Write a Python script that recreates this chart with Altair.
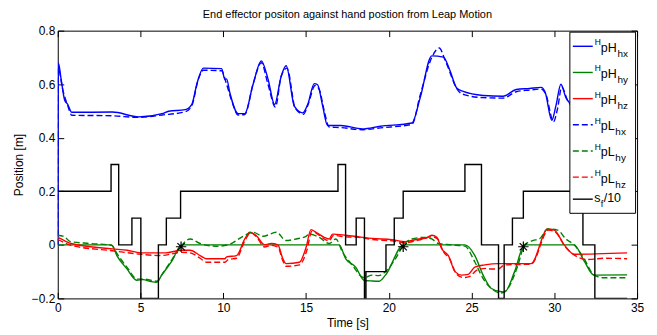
import altair as alt
import pandas as pd

FONT = "Liberation Sans"
title_text = "End effector positon against hand postion from Leap Motion"

x_ticks = [0, 5, 10, 15, 20, 25, 30, 35]
y_ticks = [-0.2, 0, 0.2, 0.4, 0.6, 0.8]

# HpH_hx (solid blue)
pH_hx_t = [0, 0.03, 0.2, 0.42, 0.6, 0.85, 3.3, 4.9, 6.3, 6.7, 7.7, 8.1, 8.4, 8.8, 9.9, 10.1, 10.2, 10.4,
           10.9, 11.3, 11.8, 12.3, 12.7, 13.1, 13.5, 13.8, 14.3, 14.8, 15.1, 15.5, 15.7, 16.0, 16.3, 17.1,
           18.4, 19.5, 21.4, 21.9, 22.6, 23.3, 23.7, 24.1, 24.5, 25.7, 26.9, 27.7, 28.5, 29.2, 29.45,
           29.85, 30.1, 30.4, 30.7, 31.2, 32.0, 33.0, 34.4]
pH_hx_y = [0.0, 0.68, 0.62, 0.54, 0.525, 0.495, 0.496, 0.478, 0.49, 0.499, 0.505, 0.525, 0.6, 0.66, 0.658,
           0.617, 0.62, 0.567, 0.49, 0.49, 0.6, 0.687, 0.62, 0.524, 0.63, 0.669, 0.517, 0.493, 0.524, 0.602,
           0.598, 0.52, 0.446, 0.446, 0.433, 0.443, 0.455, 0.55, 0.706, 0.701, 0.65, 0.586, 0.573, 0.558,
           0.555, 0.58, 0.584, 0.588, 0.57, 0.465, 0.52, 0.6, 0.55, 0.52, 0.51, 0.52, 0.52]

# HpL_hx (dashed blue)
pL_hx_t = [0, 0.03, 0.3, 0.6, 0.85, 3.3, 4.9, 6.3, 7.7, 8.1, 8.5, 8.8, 9.9, 10.2, 10.5, 10.9, 11.3, 11.8,
           12.3, 12.7, 13.15, 13.5, 13.85, 14.35, 14.85, 15.1, 15.55, 15.8, 16.1, 16.4, 17.1, 18.4, 19.5,
           21.4, 21.9, 22.6, 23.05, 23.4, 24.2, 24.6, 25.7, 26.9, 27.7, 28.5, 29.2, 29.5, 29.95, 30.2,
           30.45, 30.8, 31.2, 32.0, 33.0, 34.4]
pL_hx_y = [0.0, 0.66, 0.58, 0.52, 0.484, 0.482, 0.476, 0.485, 0.497, 0.52, 0.62, 0.652, 0.65, 0.6, 0.54,
           0.485, 0.487, 0.6, 0.68, 0.6, 0.515, 0.63, 0.66, 0.51, 0.488, 0.52, 0.595, 0.58, 0.5, 0.44,
           0.438, 0.43, 0.437, 0.45, 0.56, 0.7, 0.735, 0.69, 0.575, 0.56, 0.55, 0.548, 0.572, 0.578, 0.582,
           0.56, 0.46, 0.51, 0.59, 0.54, 0.51, 0.5, 0.51, 0.51]

# HpH_hy (solid green)
pH_hy_t = [0, 3.25, 3.57, 4.17, 4.77, 5.17, 5.57, 5.97, 6.28, 6.9, 7.48, 17.0, 17.4, 18.0, 18.5, 19.0,
           19.4, 19.8, 20.9, 24.6, 25.2, 25.7, 26.2, 26.8, 27.0, 27.6, 28.2, 31.2, 31.8, 32.4, 34.4]
pH_hy_y = [0.0, 0.0, -0.04, -0.089, -0.132, -0.13, -0.136, -0.14, -0.113, -0.06, 0.0, 0.0, -0.052,
           -0.083, -0.132, -0.135, -0.136, -0.113, 0.0, 0.0, -0.04, -0.113, -0.163, -0.175, -0.176, -0.1,
           0.0, 0.0, -0.06, -0.113, -0.112]

# HpL_hy (dashed green)
pL_hy_t = [0, 0.4, 0.77, 2.0, 3.25, 3.6, 4.2, 4.8, 5.2, 5.6, 6.0, 6.3, 6.9, 7.45, 8.0, 8.6, 9.6, 10.3,
           11.2, 11.8, 12.4, 13.2, 13.8, 14.4, 15.0, 15.2, 15.8, 16.4, 16.8, 17.2, 17.8, 18.5, 19.0, 19.4,
           19.8, 20.4, 20.9, 21.4, 22.2, 22.6, 23.0, 23.8, 24.6, 25.2, 25.7, 26.2, 26.8, 27.2, 27.8, 28.2,
           28.7, 29.1, 29.6, 30.2, 30.7, 31.2, 31.8, 32.4, 33.0, 34.4]
pL_hy_y = [0.036, 0.03, 0.012, 0.005, -0.002, -0.035, -0.085, -0.128, -0.128, -0.132, -0.136, -0.11,
           -0.055, -0.005, 0.022, 0.005, -0.005, 0.0, 0.032, 0.047, 0.032, 0.047, 0.016, 0.022, 0.032,
           0.04, 0.028, 0.005, 0.022, -0.027, -0.076, -0.123, -0.113, -0.115, -0.1, -0.052, 0.0, 0.022,
           0.028, 0.022, 0.005, 0.0, -0.005, -0.064, -0.126, -0.163, -0.18, -0.163, -0.077, 0.0, 0.016,
           0.022, 0.059, 0.055, 0.022, 0.0, -0.052, -0.113, -0.123, -0.123]

# HpH_hz (solid red)
pH_hz_t = [0, 0.4, 0.8, 3.3, 4.2, 5.0, 6.5, 7.5, 8.0, 8.6, 9.0, 10.1, 10.2, 10.8, 11.3, 11.6, 12.0, 12.5,
           12.9, 13.3, 13.6, 13.8, 14.6, 15.0, 15.3, 15.6, 16.1, 16.4, 16.6, 17.4, 18.2, 19.0, 20.2, 21.0,
           21.8, 22.2, 22.6, 22.9, 23.2, 23.6, 24.0, 24.4, 24.8, 25.2, 25.8, 26.6, 28.6, 29.6, 30.0, 30.6,
           31.2, 34.4]
pH_hz_y = [0.028, 0.016, 0.005, -0.015, -0.02, -0.03, -0.03, -0.02, -0.02, -0.04, -0.052, -0.052, -0.045,
           -0.04, 0.022, 0.047, 0.034, 0.0, 0.005, 0.0, -0.052, -0.07, -0.065, -0.01, 0.057, 0.047, 0.028,
           0.022, 0.04, 0.036, 0.03, 0.024, 0.019, 0.012, 0.022, 0.024, 0.036, 0.028, -0.015, -0.04, -0.1,
           -0.113, -0.11, -0.083, -0.075, -0.07, -0.07, 0.059, 0.055, 0.0, -0.035, -0.03]

# HpL_hz (dashed red)
pL_hz_t = [0, 0.4, 0.8, 3.3, 5.0, 6.2, 7.5, 8.0, 8.6, 9.0, 10.1, 10.3, 10.8, 11.3, 11.65, 12.0, 12.5,
           12.9, 13.3, 13.6, 13.8, 14.6, 15.05, 15.35, 15.7, 16.1, 16.4, 16.65, 17.4, 18.2, 19.0, 20.2,
           21.0, 21.8, 22.6, 22.95, 23.3, 23.7, 24.1, 24.5, 24.9, 25.3, 25.9, 26.2, 26.6, 27.0, 28.6,
           29.65, 30.05, 30.7, 31.4, 32.0, 33.0, 34.4]
pL_hz_y = [0.02, 0.008, -0.002, -0.022, -0.035, -0.04, -0.028, -0.03, -0.05, -0.065, -0.065, -0.055,
           -0.05, 0.015, 0.045, 0.03, -0.008, -0.002, -0.008, -0.06, -0.08, -0.075, -0.02, 0.05, 0.04,
           0.022, 0.015, 0.035, 0.03, 0.028, 0.02, 0.015, 0.008, 0.018, 0.03, 0.022, -0.025, -0.055, -0.11,
           -0.122, -0.118, -0.095, -0.088, -0.09, -0.09, -0.075, -0.072, 0.055, 0.048, -0.01, -0.045,
           -0.055, -0.05, -0.052]

# s_f / 10 (black step)
sf_t = [0, 3.22, 3.68, 4.48, 5.02, 6.08, 6.56, 7.42, 16.93, 17.39, 18.03, 18.53, 18.62, 19.83, 20.33,
        20.87, 24.6, 25.6, 26.63, 26.97, 27.47, 28.13, 31.73, 32.45, 34.4]
sf_v = [0.2, 0.3, 0.0, 0.1, -0.2, 0.0, 0.1, 0.2, 0.3, 0.0, 0.1, -0.2, -0.1, 0.0, 0.1, 0.2, 0.3, 0.0,
        -0.2, 0.0, 0.1, 0.2, 0.0, -0.2, -0.2]

# switching instants (asterisks)
star_t = [7.45, 20.87, 28.13]
star_y = [-0.007, -0.007, -0.007]

W, H = 582, 269
TICK = 6
BLUE, GREEN, RED = "#0000ff", "#008000", "#ff0000"
DASH = [6, 3]
LW = 1.4

x_axis = alt.Axis(values=x_ticks, title="Time [s]", grid=True, gridDash=[TICK, H - 2 * TICK, TICK, 3000],
                  gridColor="black", gridOpacity=1, gridWidth=1, ticks=False, domain=False,
                  labelFlush=False, labelPadding=4, labelFontSize=12, labelFont=FONT, labelColor="black",
                  titleFontSize=12, titleFont=FONT, titleFontWeight="normal", titleColor="black",
                  titlePadding=4)
y_axis = alt.Axis(values=y_ticks, title="Position [m]", grid=True, gridDash=[TICK, W - 2 * TICK, TICK, 3000],
                  gridColor="black", gridOpacity=1, gridWidth=1, ticks=False, domain=False,
                  labelExpr="datum.value == 0 ? '0' : format(datum.value, '.1f')",
                  labelFlush=False, labelPadding=3, labelFontSize=12, labelFont=FONT, labelColor="black",
                  titleFontSize=12, titleFont=FONT, titleFontWeight="normal", titleColor="black",
                  titlePadding=6)
xs = alt.Scale(domain=[0, 35], nice=False, zero=False)
ys = alt.Scale(domain=[-0.2, 0.8], nice=False, zero=False)


def series(t, y, color, dash=None, interp="monotone"):
    df = pd.DataFrame({"t": t, "y": y})
    kw = dict(color=color, strokeWidth=LW, interpolate=interp, clip=True)
    if dash:
        kw["strokeDash"] = dash
    return alt.Chart(df).mark_line(**kw).encode(
        x=alt.X("t:Q", scale=xs, axis=x_axis),
        y=alt.Y("y:Q", scale=ys, axis=y_axis),
        order="t:Q",
    )


layers = [
    series(pH_hx_t, pH_hx_y, BLUE),
    series(pH_hy_t, pH_hy_y, GREEN),
    series(pH_hz_t, pH_hz_y, RED),
    series(pL_hx_t, pL_hx_y, BLUE, DASH),
    series(pL_hy_t, pL_hy_y, GREEN, DASH),
    series(pL_hz_t, pL_hz_y, RED, DASH),
    series(sf_t, sf_v, "black", None, "step-after"),
]

star_path = "M-1,0L1,0M0,-1L0,1M-0.7,-0.7L0.7,0.7M-0.7,0.7L0.7,-0.7"
layers.append(
    alt.Chart(pd.DataFrame({"t": star_t, "y": star_y}))
    .mark_point(shape=star_path, filled=False, color="black", strokeWidth=1.2, size=110, opacity=1)
    .encode(x=alt.X("t:Q", scale=xs, axis=x_axis), y=alt.Y("y:Q", scale=ys, axis=y_axis))
)

# ----- custom legend (MATLAB style with super/subscripts) -----
one = pd.DataFrame({"k": [0]})
LX0, LX1, LY0, LY1 = 514.5, 580.5, 1.5, 183.5
layers.append(
    alt.Chart(one).mark_rect(fill="white", stroke="black", strokeWidth=1).encode(
        x=alt.value(LX0), x2=alt.value(LX1), y=alt.value(LY0), y2=alt.value(LY1))
)

legend_entries = [
    ("pH", "hx", BLUE, None),
    ("pH", "hy", GREEN, None),
    ("pH", "hz", RED, None),
    ("pL", "hx", BLUE, DASH),
    ("pL", "hy", GREEN, DASH),
    ("pL", "hz", RED, DASH),
]


def txt(s, x, y, size):
    return alt.Chart(one).mark_text(text=s, align="left", baseline="alphabetic", font=FONT,
                                    fontSize=size, color="black").encode(x=alt.value(x), y=alt.value(y))


def sample(y, color, dash):
    kw = dict(color=color, strokeWidth=LW)
    if dash:
        kw["strokeDash"] = dash
    return alt.Chart(one).mark_rule(**kw).encode(x=alt.value(517.5), x2=alt.value(537.5), y=alt.value(y))


MAIN = 12.5
main_w = {"pH": 1.278 * MAIN, "pL": 1.112 * MAIN}
for i, (main, sub, color, dash) in enumerate(legend_entries):
    ly = 15.7 + 26.3 * i
    layers.append(sample(ly, color, dash))
    layers.append(txt("H", 539.5, ly - 1, 8.5))
    layers.append(txt(main, 545.5, ly + 5.5, MAIN))
    layers.append(txt(sub, 545.5 + main_w[main] + 0.8, ly + 10.5, 10))

ly = 169.3
layers.append(sample(ly, "black", None))
layers.append(txt("s", 539.0, ly + 3, MAIN))
layers.append(txt("f", 545.5, ly + 7.5, 9))
layers.append(txt("/10", 548.5, ly + 3, MAIN))

chart = alt.layer(*layers).properties(
    width=W, height=H,
    title=alt.TitleParams(text=title_text, fontSize=11, font=FONT, fontWeight="normal", color="black",
                          anchor="middle", offset=5),
    autosize=alt.AutoSizeParams(type="none"),
    padding={"left": 50, "top": 22, "right": 12, "bottom": 34},
).configure_view(stroke="black", strokeWidth=1)

chart.save("out.html", embed_options={"renderer": "svg", "actions": False})
